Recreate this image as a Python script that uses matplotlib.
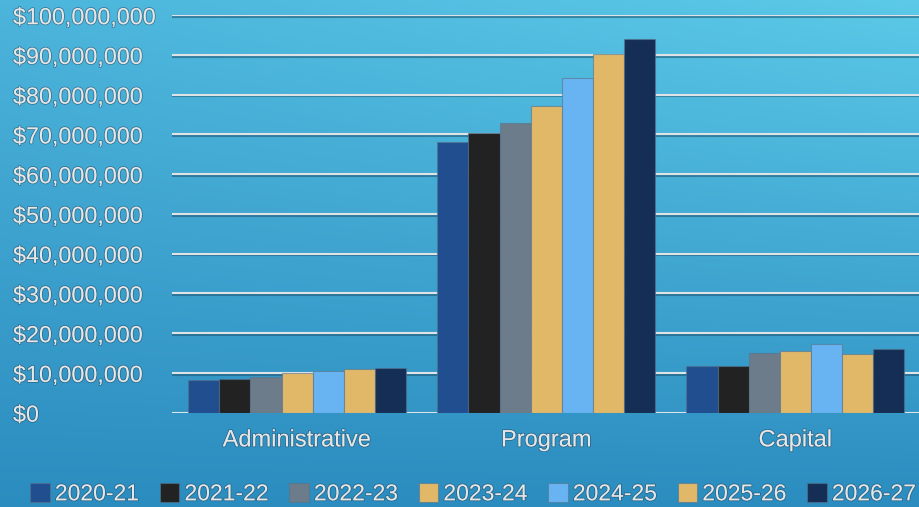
import numpy as np
import matplotlib.pyplot as plt
import matplotlib.patheffects as pe
from matplotlib.ticker import FuncFormatter

categories = ["Administrative", "Program", "Capital"]
years = ["2020-21", "2021-22", "2022-23", "2023-24", "2024-25", "2025-26", "2026-27"]
v2020 = [8.2e6, 68.1e6, 11.8e6]
v2021 = [8.4e6, 70.4e6, 11.8e6]
v2022 = [9.1e6, 72.8e6, 14.9e6]
v2023 = [10.1e6, 77.1e6, 15.6e6]
v2024 = [10.4e6, 84.1e6, 17.2e6]
v2025 = [11.1e6, 90.2e6, 14.8e6]
v2026 = [11.2e6, 94.1e6, 15.9e6]
series = [v2020, v2021, v2022, v2023, v2024, v2025, v2026]
colors = ["#214E8E", "#222222", "#6C7C8A", "#E0B868", "#68B4F2", "#E0B868", "#152E55"]

plt.rcParams['font.family'] = ['Liberation Sans', 'DejaVu Sans']
txt = "#E6E6E6"
shadow = [pe.withStroke(linewidth=1.2, foreground=(0.1, 0.25, 0.35, 0.5))]

fig = plt.figure(figsize=(9.2, 5.07), dpi=100)

# background gradient
bg = fig.add_axes([0, 0, 1, 1], zorder=-10)
h, w = 200, 200
yy, xx = np.mgrid[0:1:h * 1j, 0:1:w * 1j]
top_l = np.array([0.30, 0.71, 0.86])
top_r = np.array([0.36, 0.79, 0.91])
bot = np.array([0.17, 0.55, 0.75])
topc = top_l[None, None, :] * (1 - xx[..., None]) + top_r[None, None, :] * xx[..., None]
img = topc * (1 - yy[..., None]) + bot[None, None, :] * yy[..., None]
bg.imshow(img, aspect='auto', extent=[0, 1, 0, 1])
bg.axis('off')

ax = fig.add_axes([0.1875, 0.186, 0.8125, 0.784])
ax.patch.set_alpha(0)
x = np.arange(len(categories))
bw = 0.875 / len(years)
for i, (vals, c) in enumerate(zip(series, colors)):
    ax.bar(x - 0.4375 + bw * (i + 0.5), vals, width=bw, color=c,
           edgecolor=(0.35, 0.45, 0.55, 0.6), linewidth=0.8, label=years[i], zorder=3)

ax.set_xlim(-0.5, 2.5)
ax.set_ylim(0, 100e6)
ax.set_yticks(np.arange(0, 100e6 + 1, 10e6))
ax.yaxis.set_major_formatter(FuncFormatter(lambda v, p: "${:,.0f}".format(v)))
ax.set_xticks(x)
ax.set_xticklabels(categories)
ax.grid(axis='y', color="#DDE3E6", linewidth=1.5, zorder=1,
        path_effects=[pe.SimpleLineShadow(offset=(0, -1.2), shadow_color='#1A4A66', alpha=0.5), pe.Normal()])
ax.set_axisbelow(True)
for s in ax.spines.values():
    s.set_visible(False)
ax.tick_params(axis='x', length=0, pad=12, labelsize=17, labelcolor=txt)
ax.tick_params(axis='y', length=0, pad=(172.5 - 13) * 0.72, labelsize=16.8, labelcolor=txt)
for lab in ax.get_yticklabels():
    lab.set_horizontalalignment('left')
for lab in ax.get_xticklabels() + ax.get_yticklabels():
    lab.set_path_effects(shadow)

leg = fig.legend(loc='center left', bbox_to_anchor=(0.033, 0.026), ncol=7, frameon=False,
                 fontsize=16.5, handlelength=0.85, handleheight=0.85, handletextpad=0.22,
                 columnspacing=0.93, borderaxespad=0, borderpad=0)
for t in leg.get_texts():
    t.set_color(txt)
    t.set_path_effects(shadow)

fig.savefig("out.png", dpi=100)
